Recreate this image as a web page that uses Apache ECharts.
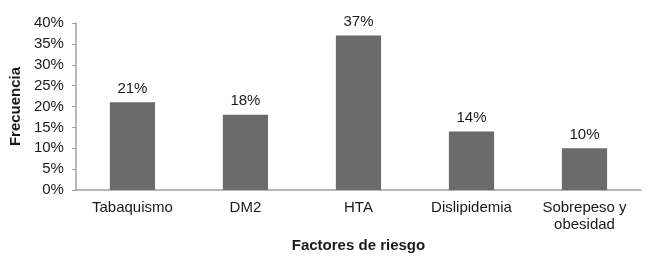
<!DOCTYPE html>
<html>
<head>
<meta charset="utf-8">
<script src="https://cdn.jsdelivr.net/npm/echarts@6/dist/echarts.min.js"></script>
<style>
  html, body { margin: 0; padding: 0; background: #fff; }
  #chart { width: 657px; height: 262px; }
</style>
</head>
<body>
<div id="chart"></div>
<script>
// datos
const categories = ['Tabaquismo', 'DM2', 'HTA', 'Dislipidemia', 'Sobrepeso y\nobesidad'];
const frecuencia = [21, 18, 37, 14, 10];
const yTicks = [0, 5, 10, 15, 20, 25, 30, 35, 40];

const textColor = '#1a1a1a';
const axisColor = '#a0a0a0';
const font = '"Liberation Sans", Arial, sans-serif';

const chart = echarts.init(document.getElementById('chart'));

chart.setOption({
  animation: false,
  backgroundColor: '#fff',
  textStyle: { fontFamily: font },
  grid: { left: 75, right: 16, top: 23, bottom: 72, containLabel: false },
  xAxis: {
    type: 'category',
    data: categories,
    name: 'Factores de riesgo',
    nameLocation: 'middle',
    nameGap: 47,
    nameTextStyle: { color: textColor, fontSize: 15, fontWeight: 'bold', fontFamily: font },
    axisLine: { lineStyle: { color: axisColor, width: 1.5 } },
    axisTick: { show: false },
    axisLabel: { color: textColor, fontSize: 15, margin: 9, lineHeight: 17, fontFamily: font }
  },
  yAxis: {
    type: 'value',
    min: yTicks[0],
    max: yTicks[yTicks.length - 1],
    interval: 5,
    name: 'Frecuencia',
    nameLocation: 'middle',
    nameGap: 48,
    nameTextStyle: { color: textColor, fontSize: 15, fontWeight: 'bold', fontFamily: font },
    axisLine: { show: true, lineStyle: { color: axisColor, width: 1.5 } },
    axisTick: { show: true, length: 4, lineStyle: { color: axisColor } },
    splitLine: { show: false },
    axisLabel: { color: textColor, fontSize: 15, margin: 12, formatter: '{value}%', fontFamily: font }
  },
  series: [{
    type: 'bar',
    data: frecuencia,
    barWidth: '40%',
    itemStyle: { color: '#6b6b6b' },
    label: {
      show: true,
      position: 'top',
      distance: 6,
      formatter: '{c}%',
      color: textColor,
      fontSize: 15,
      fontFamily: font
    }
  }]
});
</script>
</body>
</html>
